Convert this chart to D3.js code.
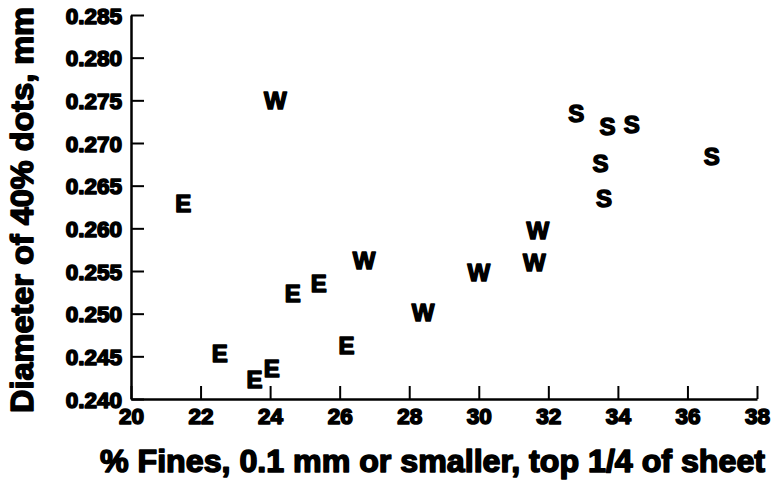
<!DOCTYPE html>
<html>
<head>
<meta charset="utf-8">
<script src="https://cdn.jsdelivr.net/npm/d3@7"></script>
<style>
  html, body { margin: 0; padding: 0; background: #fff; }
  svg { display: block; font-family: "Liberation Sans", Arial, Helvetica, sans-serif; font-weight: bold; }
  svg text { stroke: #000; stroke-linejoin: round; }
</style>
</head>
<body>
<svg id="chart" width="775" height="482"></svg>
<script>
// Series: each sample is drawn with its group letter
const eFines = [21.5, 25.4, 24.65, 22.55, 26.2, 24.05, 23.55];
const eDiam  = [0.2629, 0.2536, 0.2524, 0.2454, 0.2463, 0.2436, 0.2423];
const wFines = [24.15, 26.7, 28.4, 31.7, 31.6, 30.0];
const wDiam  = [0.2750, 0.2563, 0.2502, 0.2598, 0.2560, 0.2548];
const sFines = [32.8, 33.7, 34.4, 36.7, 33.5, 33.6];
const sDiam  = [0.2735, 0.2719, 0.2722, 0.2684, 0.2676, 0.2635];

const xTicks = [20, 22, 24, 26, 28, 30, 32, 34, 36, 38];
const yTicks = [0.240, 0.245, 0.250, 0.255, 0.260, 0.265, 0.270, 0.275, 0.280, 0.285];

const xTitle = "% Fines, 0.1 mm or smaller, top 1/4 of sheet";
const yTitle = "Diameter of 40% dots, mm";

const groups = [
  { letter: "E", xs: eFines, ys: eDiam },
  { letter: "W", xs: wFines, ys: wDiam },
  { letter: "S", xs: sFines, ys: sDiam }
];

const svg = d3.select("#chart");
const plotLeft = 131, plotRight = 757, plotTop = 15, plotBottom = 399;

const x = d3.scaleLinear().domain([20, 38]).range([plotLeft, plotRight]);
const y = d3.scaleLinear().domain([0.240, 0.285]).range([plotBottom, plotTop]);

// Axes with ticks pointing into the plot
const xAxis = svg.append("g")
  .attr("transform", `translate(0,${plotBottom})`)
  .call(d3.axisBottom(x).tickValues(xTicks).tickFormat(d3.format("d"))
    .tickSizeInner(-13).tickSizeOuter(0).tickPadding(9));

const yAxis = svg.append("g")
  .attr("transform", `translate(${plotLeft},0)`)
  .call(d3.axisLeft(y).tickValues(yTicks).tickFormat(d3.format(".3f"))
    .tickSizeInner(-13).tickSizeOuter(0).tickPadding(9));

[xAxis, yAxis].forEach(g => {
  g.attr("font-family", null).attr("font-size", null);
  g.select(".domain").attr("stroke", "#000").attr("stroke-width", 2.5);
  g.selectAll(".tick line").attr("stroke", "#000").attr("stroke-width", 2);
  g.selectAll(".tick text")
    .attr("fill", "#000")
    .attr("stroke", "#000")
    .style("stroke-width", "1.6px")
    .style("font-weight", "bold")
    .style("font-size", "22.5px");
});
yAxis.selectAll(".tick text").attr("dy", "0.36em");

// Axis titles
svg.append("text")
  .attr("x", 100).attr("y", 472)
  .attr("textLength", 665).attr("lengthAdjust", "spacingAndGlyphs")
  .style("font-size", "31px")
  .style("stroke-width", "1.5px")
  .text(xTitle);

svg.append("text")
  .attr("transform", "translate(33,413) rotate(-90)")
  .attr("textLength", 406).attr("lengthAdjust", "spacingAndGlyphs")
  .style("font-size", "31px")
  .style("stroke-width", "1.5px")
  .text(yTitle);

// Letter markers
const fs = 24;
groups.forEach(gr => {
  svg.append("g").selectAll("text")
    .data(gr.xs.map((v, i) => [v, gr.ys[i]]))
    .join("text")
    .attr("x", d => x(d[0]))
    .attr("y", d => y(d[1]) + fs * 0.36)
    .attr("text-anchor", "middle")
    .style("font-size", fs + "px")
    .style("stroke-width", "1.5px")
    .text(gr.letter);
});
</script>
</body>
</html>
